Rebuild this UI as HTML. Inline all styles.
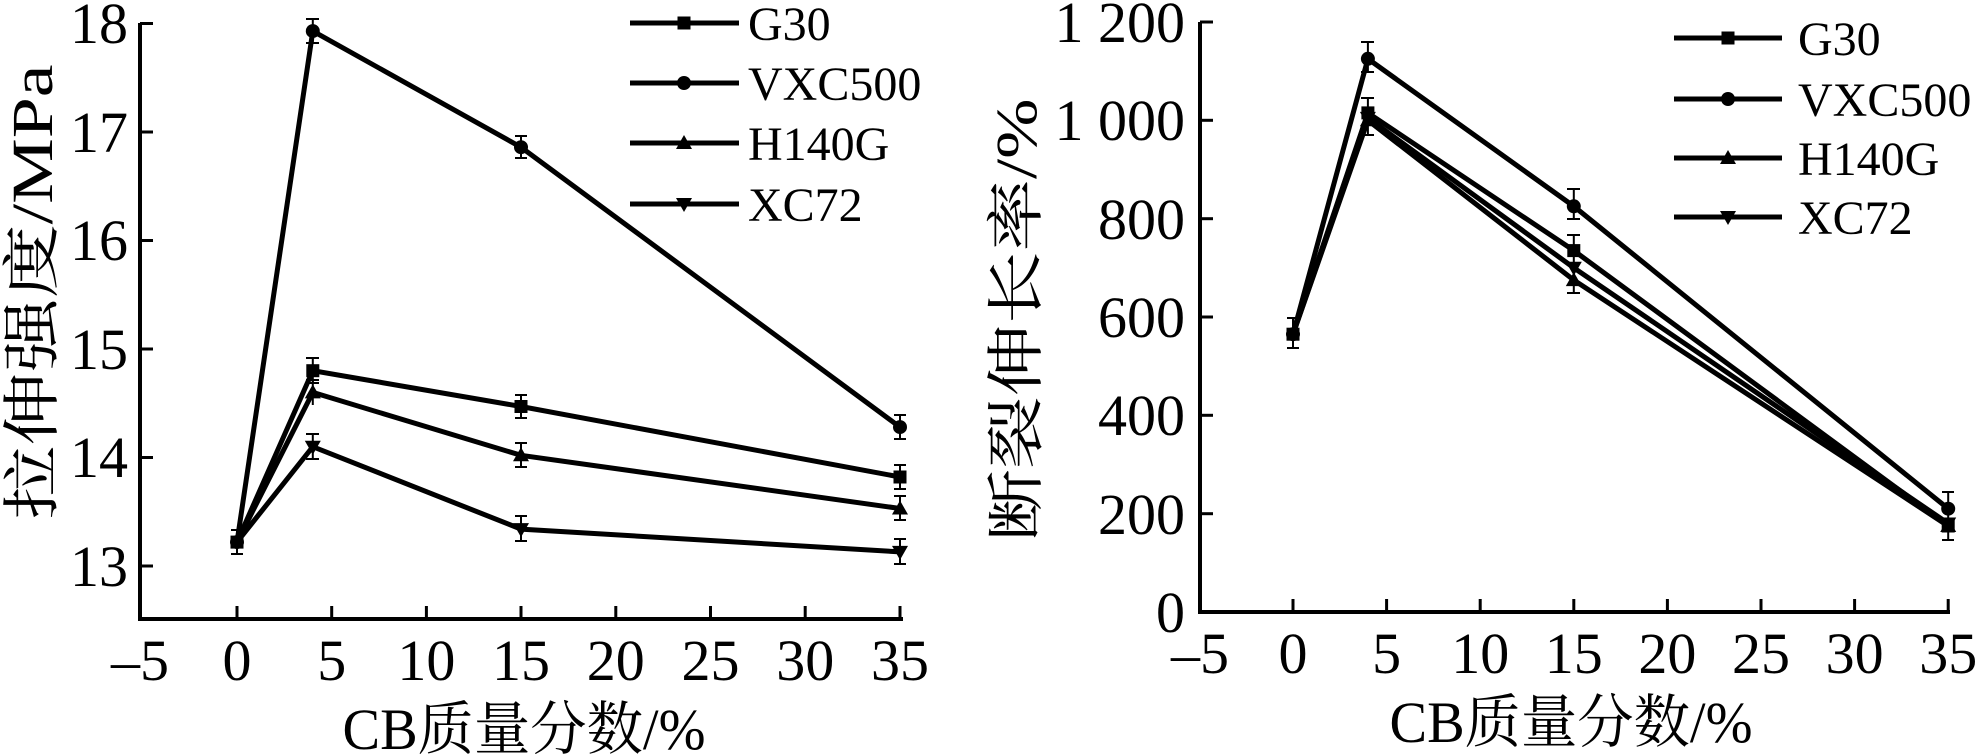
<!DOCTYPE html>
<html><head><meta charset="utf-8"><style>
html,body{margin:0;padding:0;background:#fff}
svg{display:block}
text{font-family:"Liberation Serif","Noto Serif CJK SC","Noto Sans CJK SC",serif;fill:#000}
.t{font-size:58px}
.ti{font-size:58px}
.lg{font-size:48px}
</style></head><body>
<svg width="1980" height="754" viewBox="0 0 1980 754" xmlns="http://www.w3.org/2000/svg">
<defs>
<rect id="sq" x="-6.5" y="-6.5" width="13" height="13" fill="#000"/>
<circle id="ci" r="7" fill="#000"/>
<polygon id="tu" points="0,-8 8,6 -8,6" fill="#000"/>
<polygon id="td" points="0,8 8,-6 -8,-6" fill="#000"/>
</defs>
<!-- LEFT CHART -->
<g stroke="#000" stroke-width="4" fill="none">
<polyline points="140,23 140,619 903,619"/>
</g>
<g stroke="#000" stroke-width="3">
<line x1="140" y1="566" x2="153" y2="566"/><line x1="140" y1="457.5" x2="153" y2="457.5"/>
<line x1="140" y1="349" x2="153" y2="349"/><line x1="140" y1="240.5" x2="153" y2="240.5"/>
<line x1="140" y1="132" x2="153" y2="132"/><line x1="140" y1="23.5" x2="153" y2="23.5"/>
<line x1="237" y1="619" x2="237" y2="606"/><line x1="331.7" y1="619" x2="331.7" y2="606"/>
<line x1="426.4" y1="619" x2="426.4" y2="606"/><line x1="521" y1="619" x2="521" y2="606"/>
<line x1="615.8" y1="619" x2="615.8" y2="606"/><line x1="710.5" y1="619" x2="710.5" y2="606"/>
<line x1="805.2" y1="619" x2="805.2" y2="606"/><line x1="900" y1="619" x2="900" y2="606"/>
</g>
<g class="t" text-anchor="end">
<text x="128" y="586">13</text><text x="128" y="477">14</text><text x="128" y="369">15</text>
<text x="128" y="260">16</text><text x="128" y="152">17</text><text x="128" y="43">18</text>
</g>
<g class="t" text-anchor="middle">
<text x="140" y="680">–5</text><text x="237" y="680">0</text><text x="331.7" y="680">5</text>
<text x="426.4" y="680">10</text><text x="521" y="680">15</text><text x="615.8" y="680">20</text>
<text x="710.5" y="680">25</text><text x="805.2" y="680">30</text><text x="900" y="680">35</text>
</g>
<text class="ti" x="524" y="749" text-anchor="middle" textLength="363" lengthAdjust="spacingAndGlyphs">CB质量分数/%</text>
<text class="ti" transform="translate(52,292) rotate(-90)" text-anchor="middle" textLength="455" lengthAdjust="spacingAndGlyphs">拉伸强度/MPa</text>
<g stroke="#000" stroke-width="5" fill="none" stroke-linejoin="miter">
<polyline points="237,542.1 312.8,370.7 521,406.5 900,477"/>
<polyline points="237,542.1 312.8,31.1 521,147.2 900,427.1"/>
<polyline points="237,542.1 312.8,392.4 521,455.3 900,508.5"/>
<polyline points="237,542.1 312.8,446.7 521,529.1 900,551.9"/>
</g>
<g stroke="#000" stroke-width="2">
<path d="M237,530v24M231,530h12M231,554h12"/>
<path d="M312.8,19v24M306,19h13M306,43h13"/>
<path d="M521,136v22M515,136h12M515,158h12"/>
<path d="M900,415v24M894,415h12M894,439h12"/>
<path d="M312.8,358v25M306,358h13M306,383h13"/>
<path d="M521,395v23M515,395h12M515,418h12"/>
<path d="M900,465v24M894,465h12M894,489h12"/>
<path d="M312.8,380v25M306,380h13"/>
<path d="M521,443v24M515,443h12M515,467h12"/>
<path d="M900,496v24M894,496h12M894,520h12"/>
<path d="M312.8,434v25M306,434h13M306,459h13"/>
<path d="M521,516v25M515,516h12M515,541h12"/>
<path d="M900,539v25M894,539h12M894,564h12"/>
</g>
<use href="#sq" x="312.8" y="370.7"/><use href="#sq" x="521" y="406.5"/><use href="#sq" x="900" y="477"/>
<use href="#ci" x="312.8" y="31.1"/><use href="#ci" x="521" y="147.2"/><use href="#ci" x="900" y="427.1"/>
<use href="#tu" x="312.8" y="392.4"/><use href="#tu" x="521" y="455.3"/><use href="#tu" x="900" y="508.5"/>
<use href="#td" x="312.8" y="446.7"/><use href="#td" x="521" y="529.1"/><use href="#td" x="900" y="551.9"/>
<use href="#sq" x="237" y="542.1"/><use href="#ci" x="237" y="542.1"/>
<g stroke="#000" stroke-width="5">
<line x1="630" y1="23" x2="739" y2="23"/><line x1="630" y1="83" x2="739" y2="83"/>
<line x1="630" y1="143" x2="739" y2="143"/><line x1="630" y1="204" x2="739" y2="204"/>
</g>
<use href="#sq" x="684" y="23"/><use href="#ci" x="684" y="83"/><use href="#tu" x="684" y="143"/><use href="#td" x="684" y="204"/>
<g class="lg">
<text x="748" y="40">G30</text><text x="748" y="100">VXC500</text>
<text x="748" y="160">H140G</text><text x="748" y="221">XC72</text>
</g>

<!-- RIGHT CHART -->
<g stroke="#000" stroke-width="4" fill="none">
<polyline points="1200,22 1200,612 1950,612"/>
</g>
<g stroke="#000" stroke-width="3">
<line x1="1200" y1="513.7" x2="1213" y2="513.7"/><line x1="1200" y1="415.3" x2="1213" y2="415.3"/>
<line x1="1200" y1="317" x2="1213" y2="317"/><line x1="1200" y1="218.7" x2="1213" y2="218.7"/>
<line x1="1200" y1="120.3" x2="1213" y2="120.3"/><line x1="1200" y1="22" x2="1213" y2="22"/>
<line x1="1293" y1="612" x2="1293" y2="599"/><line x1="1386.6" y1="612" x2="1386.6" y2="599"/>
<line x1="1480.2" y1="612" x2="1480.2" y2="599"/><line x1="1573.8" y1="612" x2="1573.8" y2="599"/>
<line x1="1667.4" y1="612" x2="1667.4" y2="599"/><line x1="1761" y1="612" x2="1761" y2="599"/>
<line x1="1854.6" y1="612" x2="1854.6" y2="599"/><line x1="1948.2" y1="612" x2="1948.2" y2="599"/>
</g>
<g class="t" text-anchor="end">
<text x="1185" y="632">0</text><text x="1185" y="534">200</text><text x="1185" y="435">400</text>
<text x="1185" y="337">600</text><text x="1185" y="239">800</text><text x="1185" y="140">1 000</text>
<text x="1185" y="42">1 200</text>
</g>
<g class="t" text-anchor="middle">
<text x="1200" y="673">–5</text><text x="1293" y="673">0</text><text x="1386.6" y="673">5</text>
<text x="1480.2" y="673">10</text><text x="1573.8" y="673">15</text><text x="1667.4" y="673">20</text>
<text x="1761" y="673">25</text><text x="1854.6" y="673">30</text><text x="1948.2" y="673">35</text>
</g>
<text class="ti" x="1571" y="742" text-anchor="middle" textLength="363" lengthAdjust="spacingAndGlyphs">CB质量分数/%</text>
<text class="ti" transform="translate(1036,320) rotate(-90)" text-anchor="middle" textLength="443" lengthAdjust="spacingAndGlyphs">断裂伸长率/%</text>
<g stroke="#000" stroke-width="5" fill="none">
<polyline points="1293,334.2 1367.9,112.9 1573.8,250.6 1948.2,526"/>
<polyline points="1293,334.2 1367.9,58.8 1573.8,206.3 1948.2,508.7"/>
<polyline points="1293,334.2 1367.9,120.3 1573.8,280.1 1948.2,526"/>
<polyline points="1293,334.2 1367.9,117.9 1573.8,267.8 1948.2,523.5"/>
</g>
<g stroke="#000" stroke-width="2">
<path d="M1293,318v30M1287,318h12M1287,348h12"/>
<path d="M1367.9,42v30M1361,42h13M1361,72h13"/>
<path d="M1367.9,98v37M1361,98h13M1361,135h13"/>
<path d="M1573.8,189v30M1567,189h13M1567,219h13"/>
<path d="M1573.8,235v58M1567,235h13M1567,293h13"/>
<path d="M1948.2,492v48M1942,492h12M1942,540h12"/>
</g>
<use href="#sq" x="1293" y="334.2"/><use href="#ci" x="1293" y="334.2"/>
<use href="#sq" x="1367.9" y="112.9"/><use href="#sq" x="1573.8" y="250.6"/><use href="#sq" x="1948.2" y="526"/>
<use href="#ci" x="1367.9" y="58.8"/><use href="#ci" x="1573.8" y="206.3"/><use href="#ci" x="1948.2" y="508.7"/>
<use href="#tu" x="1367.9" y="120.3"/><use href="#tu" x="1573.8" y="280.1"/><use href="#tu" x="1948.2" y="526"/>
<use href="#td" x="1367.9" y="117.9"/><use href="#td" x="1573.8" y="267.8"/><use href="#td" x="1948.2" y="523.5"/>
<g stroke="#000" stroke-width="5">
<line x1="1674" y1="38" x2="1782" y2="38"/><line x1="1674" y1="99" x2="1782" y2="99"/>
<line x1="1674" y1="158" x2="1782" y2="158"/><line x1="1674" y1="217" x2="1782" y2="217"/>
</g>
<use href="#sq" x="1728" y="38"/><use href="#ci" x="1728" y="99"/><use href="#tu" x="1728" y="158"/><use href="#td" x="1728" y="217"/>
<g class="lg">
<text x="1798" y="55">G30</text><text x="1798" y="116">VXC500</text>
<text x="1798" y="175">H140G</text><text x="1798" y="234">XC72</text>
</g>
</svg>
</body></html>
